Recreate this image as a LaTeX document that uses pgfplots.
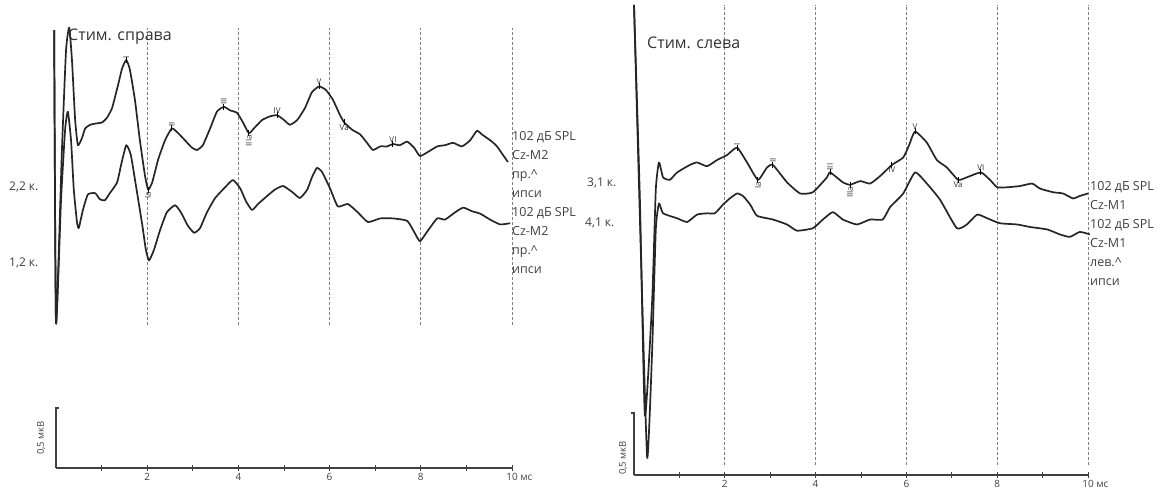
\documentclass[border=0pt]{standalone}
\usepackage{pgfplots}
\pgfplotsset{compat=1.18}
\usepackage{fontspec}
\setmainfont{Open Sans}

\pgfplotsset{
  abr/.style={
    scale only axis, enlargelimits=false, clip=false,
    xmin=0, xmax=10, ymin=0,
    axis x line*=bottom, axis y line=none,
    xtick={1,...,10}, xticklabels={,2,,4,,6,,8,,10\rlap{ мс}},
    tick align=center, major tick length=6pt,
    x axis line style={line width=1.1pt, black!75},
    xtick style={line width=1pt, black!75},
    tick label style={font=\fontsize{10}{10}\selectfont, text=black!75},
    xticklabel style={yshift=1pt},
    /pgf/number format/assume math mode=true,
  },
  trace/.style={black!85, line width=1.7pt, line join=round, smooth, tension=0.3, no markers},
  pk/.style={only marks, mark=|, mark size=3pt, black, mark options={line width=1pt},
    point meta=explicit symbolic, nodes near coords,
    every node near coord/.append style={font=\fontsize{8}{8}\selectfont, text=black!80, inner sep=1.5pt}},
}
\tikzset{
  gridl/.style={densely dashed, black!50, line width=0.7pt},
  side/.style={anchor=north west, align=left, inner sep=0pt, text=black!75, font=\fontsize{12.5}{19}\selectfont},
}

\begin{document}
\begin{tikzpicture}[x=1pt,y=1pt]
\useasboundingbox (0,0) rectangle (1165,-488);

% ---- left: stimulus on the right
\begin{axis}[abr, at={(56pt,-468pt)}, anchor=south west, width=456pt, height=468pt, ymax=3.9]
\pgfplotsinvokeforeach{2,4,6,8,10}{\draw[gridl] (axis cs:#1,1.19) -- (axis cs:#1,3.67);}
\draw[line width=1.1pt, black!75] (axis cs:0.06,0.5) -- (axis cs:0,0.5) -- (axis cs:0,0);
% 2,2 k.
\addplot[trace] coordinates {
 (-0.04,3.65) (0.00,1.21) (0.13,2.65) (0.22,3.48) (0.29,3.67) (0.35,3.40) (0.42,2.90)
 (0.48,2.69) (0.57,2.75) (0.64,2.83) (0.75,2.86) (0.86,2.87) (1.01,2.88) (1.12,2.92)
 (1.23,3.00) (1.36,3.19) (1.45,3.33) (1.54,3.40) (1.62,3.32) (1.73,3.07) (1.84,2.73)
 (1.95,2.44) (2.02,2.32) (2.11,2.38) (2.24,2.57) (2.39,2.73) (2.54,2.83) (2.68,2.79)
 (2.83,2.73) (2.98,2.67) (3.09,2.65) (3.22,2.69) (3.38,2.83) (3.53,2.97) (3.68,3.01)
 (3.82,2.98) (3.97,2.96) (4.10,2.88) (4.23,2.79) (4.34,2.83) (4.52,2.90) (4.69,2.93)
 (4.85,2.94) (5.00,2.90) (5.13,2.86) (5.29,2.90) (5.46,3.00) (5.61,3.13) (5.77,3.18)
 (5.92,3.15) (6.07,3.07) (6.23,2.94) (6.32,2.88) (6.49,2.82) (6.67,2.78) (6.82,2.71)
 (6.95,2.65) (7.11,2.68) (7.26,2.68) (7.39,2.70) (7.54,2.69) (7.70,2.72) (7.85,2.67)
 (7.98,2.60) (8.14,2.63) (8.36,2.68) (8.53,2.69) (8.71,2.71) (8.90,2.68) (9.08,2.73)
 (9.23,2.81) (9.34,2.78) (9.45,2.75) (9.56,2.72) (9.67,2.68) (9.80,2.61) (9.91,2.55)
};
% 1,2 k.
\addplot[trace] coordinates {
 (-0.04,3.65) (0.00,1.21) (0.11,2.23) (0.20,2.82) (0.26,2.97) (0.33,2.73) (0.39,2.32)
 (0.46,2.05) (0.50,2.00) (0.59,2.15) (0.70,2.28) (0.86,2.29) (0.96,2.24) (1.07,2.23)
 (1.18,2.29) (1.34,2.38) (1.43,2.53) (1.54,2.69) (1.64,2.61) (1.75,2.36) (1.89,2.03)
 (1.97,1.82) (2.04,1.73) (2.15,1.82) (2.28,1.98) (2.43,2.13) (2.61,2.19) (2.74,2.13)
 (2.89,2.02) (3.03,1.96) (3.16,2.00) (3.31,2.13) (3.49,2.25) (3.71,2.34) (3.88,2.40)
 (4.04,2.33) (4.17,2.22) (4.30,2.15) (4.43,2.20) (4.58,2.25) (4.80,2.32) (4.98,2.35)
 (5.18,2.30) (5.35,2.25) (5.51,2.32) (5.61,2.42) (5.72,2.50) (5.83,2.47) (6.01,2.33)
 (6.18,2.18) (6.40,2.20) (6.62,2.13) (6.84,2.05) (7.11,2.08) (7.39,2.08) (7.70,2.06)
 (7.85,1.97) (7.98,1.89) (8.14,1.97) (8.36,2.08) (8.53,2.07) (8.75,2.13) (8.93,2.17)
 (9.12,2.14) (9.30,2.12) (9.52,2.07) (9.74,2.03) (9.96,2.04)
};
% peak labels
\addplot[pk, every node near coord/.append style={rotate=90, anchor=west}] table[meta=lab] {
x y lab
1.54 3.40 I
2.54 2.83 II
3.68 3.01 III
};
\addplot[pk, every node near coord/.append style={rotate=90, anchor=east}] table[meta=lab] {
x y lab
2.02 2.32 Ia
4.23 2.79 IIIa
};
\addplot[pk, every node near coord/.append style={anchor=south}] table[meta=lab] {
x y lab
4.85 2.94 IV
5.77 3.18 V
7.39 2.70 VI
};
\addplot[pk, every node near coord/.append style={anchor=north}] table[meta=lab] {
x y lab
6.32 2.88 Va
};
\end{axis}

% ---- right: stimulus on the left
\begin{axis}[abr, at={(634pt,-475pt)}, anchor=south west, width=454pt, height=475pt, ymax=3.83]
\pgfplotsinvokeforeach{2,4,6,8,10}{\draw[gridl] (axis cs:#1,0.08) -- (axis cs:#1,3.79);}
\draw[line width=1.1pt, black!75] (axis cs:-0.06,0.5) -- (axis cs:0,0.5) -- (axis cs:0,0);
% 3,1 k.
\addplot[trace] coordinates {
 (0.00,3.79) (0.13,2.22) (0.24,0.48) (0.40,1.41) (0.48,2.30) (0.55,2.52) (0.64,2.40)
 (0.79,2.38) (0.95,2.44) (1.23,2.50) (1.39,2.52) (1.61,2.49) (1.83,2.54) (2.05,2.58)
 (2.27,2.64) (2.49,2.52) (2.73,2.38) (2.93,2.48) (3.06,2.50) (3.37,2.36) (3.66,2.27)
 (3.94,2.28) (4.25,2.40) (4.32,2.44) (4.60,2.36) (4.76,2.34) (4.98,2.37) (5.20,2.35)
 (5.42,2.41) (5.68,2.50) (5.93,2.56) (6.06,2.66) (6.19,2.77) (6.45,2.68) (6.67,2.54)
 (6.89,2.48) (7.14,2.38) (7.33,2.40) (7.64,2.44) (7.84,2.38) (8.00,2.32) (8.22,2.32)
 (8.50,2.33) (8.77,2.35) (8.94,2.31) (9.23,2.28) (9.45,2.27) (9.67,2.23) (9.82,2.25)
 (10.00,2.27)
};
% 4,1 k.
\addplot[trace] coordinates {
 (0.00,3.79) (0.15,1.81) (0.29,0.14) (0.40,1.01) (0.48,1.98) (0.55,2.19) (0.64,2.11)
 (0.95,2.07) (1.17,2.04) (1.39,2.10) (1.61,2.11) (1.78,2.11) (1.96,2.18) (2.11,2.23)
 (2.27,2.27) (2.40,2.25) (2.56,2.18) (2.71,2.09) (3.06,2.06) (3.37,2.02) (3.59,1.97)
 (3.94,1.99) (4.16,2.06) (4.38,2.12) (4.60,2.06) (4.91,2.02) (5.20,2.06) (5.48,2.06)
 (5.64,2.16) (5.93,2.27) (6.19,2.44) (6.45,2.35) (6.74,2.22) (7.11,1.99) (7.33,2.02)
 (7.56,2.10) (7.78,2.07) (8.06,2.03) (8.44,2.02) (8.72,2.00) (9.10,1.98) (9.38,1.94)
 (9.60,1.92) (9.82,1.96) (10.04,1.94)
};
\addplot[pk, every node near coord/.append style={rotate=90, anchor=west}] table[meta=lab] {
x y lab
2.27 2.64 I
3.06 2.50 II
4.32 2.44 III
};
\addplot[pk, every node near coord/.append style={rotate=90, anchor=east}] table[meta=lab] {
x y lab
2.73 2.38 Ia
4.76 2.34 IIIa
};
\addplot[pk, every node near coord/.append style={anchor=south}] table[meta=lab] {
x y lab
6.19 2.77 V
7.64 2.44 VI
};
\addplot[pk, every node near coord/.append style={anchor=north}] table[meta=lab] {
x y lab
5.68 2.50 IV
7.14 2.38 Va
};
\end{axis}

% ---- texts
\node[anchor=west, inner sep=0pt, text=black!80, font=\fontsize{16}{16}\selectfont] at (68,-37) {Стим. справа};
\node[anchor=west, inner sep=0pt, text=black!80, font=\fontsize{16}{16}\selectfont] at (647,-43) {Стим. слева};
\node[anchor=west, inner sep=0pt, text=black!75, font=\fontsize{12}{12}\selectfont] at (9,-187) {2,2 к.};
\node[anchor=west, inner sep=0pt, text=black!75, font=\fontsize{12}{12}\selectfont] at (9,-263) {1,2 к.};
\node[anchor=west, inner sep=0pt, text=black!75, font=\fontsize{12}{12}\selectfont] at (587,-183) {3,1 к.};
\node[anchor=west, inner sep=0pt, text=black!75, font=\fontsize{12}{12}\selectfont] at (585,-223) {4,1 к.};
\node[side] at (512,-131) {102 дБ SPL\\Cz-M2\\пр.\textasciicircum\\ипси\\102 дБ SPL\\Cz-M2\\пр.\textasciicircum\\ипси};
\node[side] at (1090,-181) {102 дБ SPL\\Cz-M1\\102 дБ SPL\\Cz-M1\\лев.\textasciicircum\\ипси};
\node[rotate=90, inner sep=0pt, text=black!75, font=\fontsize{9.5}{9.5}\selectfont] at (41,-438) {0,5 мкВ};
\node[rotate=90, inner sep=0pt, text=black!75, font=\fontsize{9.5}{9.5}\selectfont] at (623,-458) {0,5 мкВ};
\end{tikzpicture}
\end{document}
